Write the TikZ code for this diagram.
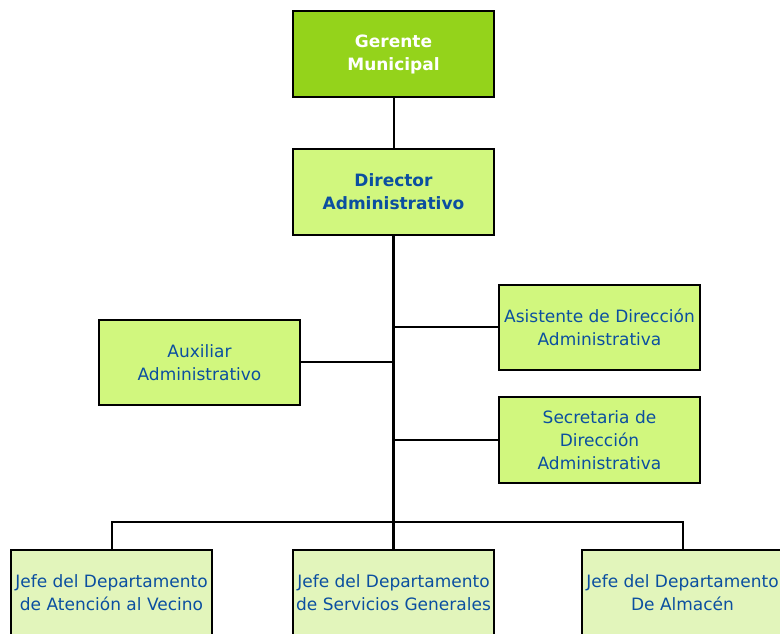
\documentclass[tikz,border=0pt]{standalone}
\usepackage{fontspec}
\setmainfont{DejaVu Sans}
\usetikzlibrary{positioning}

\definecolor{gerfill}{HTML}{94D31B}
\definecolor{dirfill}{HTML}{D1F77E}
\definecolor{jefefill}{HTML}{E2F5BB}
\definecolor{txtblue}{HTML}{0B4FA0}

\tikzset{
    cargo/.style={draw=black, line width=1.6pt, fill=dirfill, text=txtblue,
        minimum width=201pt, minimum height=86pt, align=center,
        inner sep=0pt, font=\fontsize{17}{23}\selectfont},
    jefe/.style={cargo, fill=jefefill},
    tronco/.style={line width=2.8pt, black},
    rama/.style={line width=2pt, black}
}

\begin{document}
\begin{tikzpicture}[x=1pt, y=1pt]
    % Frame of the page
    \useasboundingbox (0,0) rectangle (780,633);
    \clip (0,0) rectangle (780,633);

    % Top of the chart
    \node[cargo, fill=gerfill, text=white, font=\fontsize{17}{23}\bfseries\selectfont] (ger) at (393.5,579) {Gerente\\Municipal};
    \node[cargo, font=\fontsize{17}{23}\bfseries\selectfont] (dir) at (393.5,441) {Director\\Administrativo};

    % Staff boxes
    \node[cargo, minimum height=85pt] (asi) at (599.5,305.5) {Asistente de Dirección\\Administrativa};
    \node[cargo, minimum height=85pt] (aux) at (199.5,270.5) {Auxiliar\\Administrativo};
    \node[cargo] (sec) at (599.5,193) {Secretaria de\\Dirección\\Administrativa};

    % Departments
    \node[jefe] (jefeA) at (111.5,40) {Jefe del Departamento\\de Atención al Vecino};
    \node[jefe] (jefeB) at (393.5,40) {Jefe del Departamento\\de Servicios Generales};
    \node[jefe] (jefeC) at (682.5,40) {Jefe del Departamento\\De Almacén};

    \coordinate (bus) at (393.5,111);

    % Connectors
    \draw[rama] (ger.south) -- (dir.north);
    \draw[tronco] (dir.south) -- (jefeB.north);
    \draw[rama] (asi.west) -- (asi.west -| dir.south);
    \draw[rama] (sec.west) -- (sec.west -| dir.south);
    \draw[rama] (aux.east) -- (aux.east -| dir.south);
    \draw[rama] (jefeA.north) |- (bus) -| (jefeC.north);
\end{tikzpicture}
\end{document}
